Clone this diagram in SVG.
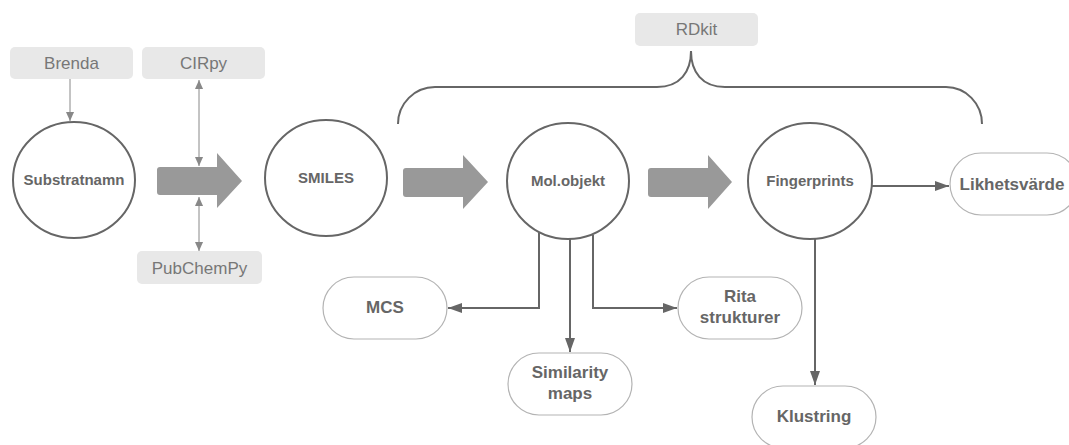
<svg xmlns="http://www.w3.org/2000/svg" width="1069" height="445" viewBox="0 0 1069 445">
<style>
.circ{fill:#fff;stroke:#666;stroke-width:2}
.ctext{font-family:"Liberation Sans",Arial,sans-serif;font-weight:bold;font-size:15px;fill:#666;text-anchor:middle}
.gbox{fill:#e8e8e8;stroke:none}
.gtext{font-family:"Liberation Sans",Arial,sans-serif;font-size:17px;fill:#777;text-anchor:middle}
.rbox{fill:#fff;stroke:#b3b3b3;stroke-width:1.2}
.rtext{font-family:"Liberation Sans",Arial,sans-serif;font-weight:bold;font-size:17px;fill:#666;text-anchor:middle}
.big{fill:#999}
.conn{fill:none;stroke:#666;stroke-width:2}
.thin{fill:none;stroke:#888;stroke-width:1}
.brace{fill:none;stroke:#666;stroke-width:2}
</style>
<defs>
<marker id="ah" viewBox="0 0 14 10" refX="14" refY="5" markerWidth="7" markerHeight="5" orient="auto" markerUnits="strokeWidth">
<path d="M0,0 L14,5 L0,10 z" fill="#666"/>
</marker>
<marker id="ahs" viewBox="0 0 10 10" refX="10" refY="5" markerWidth="10" markerHeight="9" orient="auto-start-reverse" markerUnits="strokeWidth">
<path d="M0,0.5 L10,5 L0,9.5 z" fill="#888"/>
</marker>
</defs>

<g id="brenda"><rect class="gbox" x="10" y="47" width="123" height="32" rx="5"/><text class="gtext" x="71.5" y="69">Brenda</text></g>
<g id="cirpy"><rect class="gbox" x="142" y="47" width="123" height="32" rx="5"/><text class="gtext" x="203.5" y="69">CIRpy</text></g>
<g id="pubchempy"><rect class="gbox" x="137" y="251" width="125" height="33" rx="5"/><text class="gtext" x="199.5" y="274">PubChemPy</text></g>
<g id="rdkit"><rect class="gbox" x="635" y="13" width="123" height="33" rx="5"/><text class="gtext" x="696.5" y="35">RDkit</text></g>

<g id="substratnamn"><ellipse class="circ" cx="74" cy="180" rx="61" ry="58"/><text class="ctext" x="74" y="185">Substratnamn</text></g>
<g id="smiles"><ellipse class="circ" cx="326" cy="178" rx="61" ry="58"/><text class="ctext" x="326" y="183">SMILES</text></g>
<g id="molobjekt"><ellipse class="circ" cx="568" cy="181" rx="61" ry="58"/><text class="ctext" x="568" y="186">Mol.objekt</text></g>
<g id="fingerprints"><ellipse class="circ" cx="810" cy="181" rx="62" ry="58"/><text class="ctext" x="810" y="186">Fingerprints</text></g>

<g id="likhetsvarde"><rect class="rbox" x="950" y="153" width="128" height="62" rx="31"/><text class="rtext" x="1012" y="190">Likhetsvärde</text></g>
<g id="mcs"><rect class="rbox" x="323" y="277" width="124" height="62" rx="31"/><text class="rtext" x="385" y="313">MCS</text></g>
<g id="rita"><rect class="rbox" x="678" y="277" width="124" height="62" rx="31"/><text class="rtext" x="740" y="302">Rita</text><text class="rtext" x="740" y="323">strukturer</text></g>
<g id="similarity"><rect class="rbox" x="508" y="353" width="124" height="62" rx="31"/><text class="rtext" x="570" y="378">Similarity</text><text class="rtext" x="570" y="399">maps</text></g>
<g id="klustring"><rect class="rbox" x="752" y="386" width="124" height="62" rx="31"/><text class="rtext" x="814" y="422">Klustring</text></g>

<g id="big-arrows">
<path class="big" d="M160,167 L217,167 L217,153 L242,181 L217,208 L217,195 L160,195 Q157,195 157,192 L157,170 Q157,167 160,167 z"/>
<path class="big" d="M406,168 L463,168 L463,155 L488,182 L463,209 L463,197 L406,197 Q403,197 403,194 L403,171 Q403,168 406,168 z"/>
<path class="big" d="M651,168 L708,168 L708,155 L732,182 L708,209 L708,197 L651,197 Q648,197 648,194 L648,171 Q648,168 651,168 z"/>
</g>

<g id="brace">
<path class="brace" d="M398,124 A37,37 0 0 1 435,87 L657,87 C680,87 691,72 691,51"/>
<path class="brace" d="M691,51 C691,72 702,87 725,87 L946,87 A36,37 0 0 1 982,124"/>
</g>

<g id="connectors">
<line class="thin" x1="70" y1="79" x2="70" y2="121" marker-end="url(#ahs)"/>
<line class="thin" x1="199" y1="80" x2="199" y2="166" marker-start="url(#ahs)" marker-end="url(#ahs)"/>
<line class="thin" x1="199" y1="197" x2="199" y2="251" marker-start="url(#ahs)" marker-end="url(#ahs)"/>
<line class="conn" x1="872" y1="186" x2="949" y2="186" marker-end="url(#ah)"/>
<polyline class="conn" points="539,233 539,308 448,308" marker-end="url(#ah)"/>
<line class="conn" x1="570" y1="239" x2="570" y2="352" marker-end="url(#ah)"/>
<polyline class="conn" points="593,235 593,308 677,308" marker-end="url(#ah)"/>
<line class="conn" x1="815" y1="239" x2="815" y2="385" marker-end="url(#ah)"/>
</g>
</svg>
